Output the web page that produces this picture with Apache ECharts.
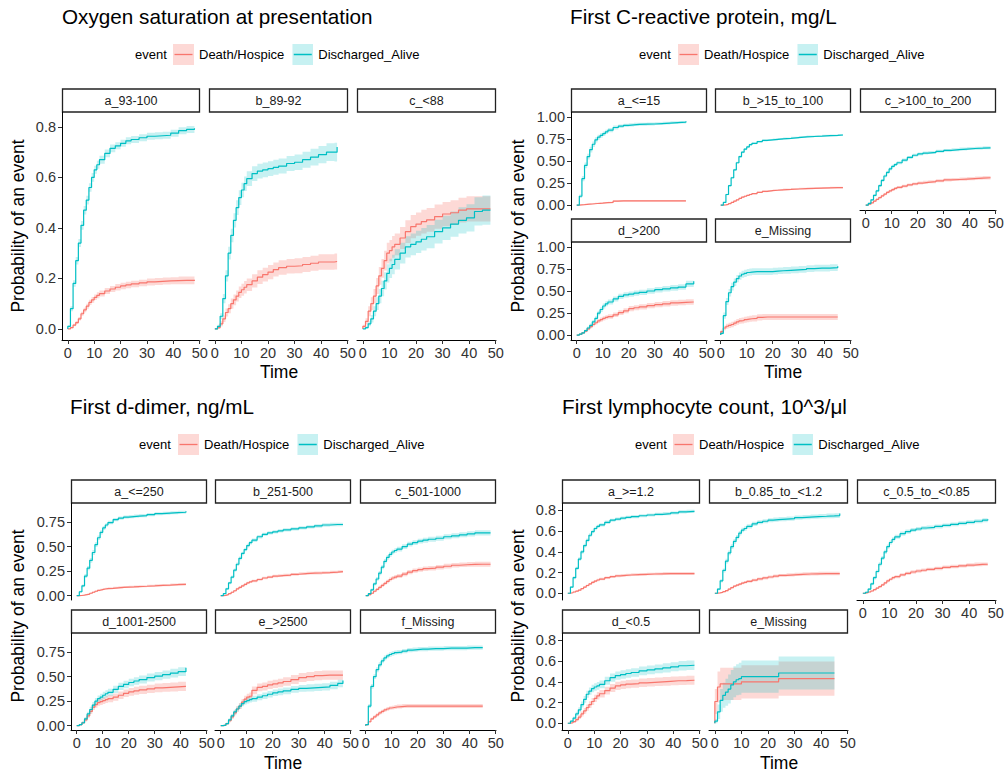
<!DOCTYPE html>
<html><head><meta charset="utf-8">
<script src="https://cdn.jsdelivr.net/npm/echarts@6/dist/echarts.min.js"></script>
<style>html,body{margin:0;padding:0;background:#fff}#c{width:1007px;height:774px}</style>
</head><body><div id="c"></div><script>
// ---------- DATA ----------
const T = [0,1,2,3,4,5,6,7,8,9,10,11,12,14,16,18,20,22,24,27,30,33,36,39,42,45,48];
const EVENTS = ['Death/Hospice','Discharged_Alive'];
const xTicks = [0,10,20,30,40,50];

// Panel 1: Oxygen saturation
const oxyTitle = 'Oxygen saturation at presentation';
const oxyFacets = ['a_93-100','b_89-92','c_<88'];
const oxyEnd = [48,46,48];
const oxyYTicks = [0,0.2,0.4,0.6,0.8];
const oxy_a_D = [0,0.005,0.015,0.025,0.04,0.06,0.075,0.09,0.105,0.115,0.125,0.133,0.14,0.15,0.158,0.165,0.17,0.174,0.178,0.182,0.186,0.188,0.19,0.191,0.192,0.192,0.195];
const oxy_a_Dhw = [0,0.003,0.005,0.006,0.007,0.008,0.009,0.01,0.01,0.011,0.011,0.012,0.012,0.012,0.012,0.013,0.013,0.013,0.013,0.013,0.014,0.014,0.014,0.014,0.015,0.015,0.016];
const oxy_a_A = [0.01,0.08,0.18,0.27,0.34,0.41,0.47,0.51,0.56,0.60,0.63,0.65,0.67,0.695,0.715,0.725,0.735,0.745,0.75,0.757,0.763,0.765,0.767,0.775,0.785,0.79,0.795];
const oxy_a_Ahw = [0.004,0.01,0.013,0.015,0.016,0.017,0.017,0.017,0.017,0.017,0.016,0.016,0.016,0.015,0.015,0.014,0.014,0.014,0.014,0.014,0.014,0.014,0.014,0.014,0.014,0.014,0.015];
const oxy_b_D = [0,0.005,0.02,0.04,0.065,0.08,0.10,0.115,0.13,0.145,0.155,0.165,0.175,0.19,0.205,0.215,0.225,0.235,0.243,0.248,0.25,0.255,0.26,0.265,0.265,0.267,0.267];
const oxy_b_Dhw = [0,0.005,0.01,0.013,0.016,0.018,0.02,0.021,0.022,0.023,0.024,0.025,0.025,0.026,0.027,0.027,0.028,0.028,0.029,0.029,0.03,0.03,0.03,0.031,0.031,0.032,0.032];
const oxy_b_A = [0,0.01,0.05,0.12,0.21,0.30,0.37,0.43,0.48,0.52,0.55,0.575,0.595,0.615,0.625,0.63,0.635,0.64,0.645,0.655,0.66,0.67,0.68,0.69,0.70,0.70,0.72];
const oxy_b_Ahw = [0,0.006,0.012,0.018,0.022,0.025,0.027,0.028,0.029,0.029,0.029,0.029,0.029,0.029,0.029,0.029,0.029,0.03,0.03,0.03,0.031,0.032,0.033,0.034,0.035,0.037,0.04];
const oxy_c_D = [0.01,0.03,0.07,0.10,0.13,0.17,0.21,0.24,0.27,0.30,0.31,0.325,0.335,0.36,0.385,0.405,0.415,0.425,0.432,0.445,0.455,0.46,0.47,0.475,0.475,0.475,0.475];
const oxy_c_Dhw = [0.006,0.012,0.02,0.025,0.028,0.032,0.035,0.037,0.039,0.041,0.042,0.043,0.043,0.044,0.045,0.046,0.046,0.047,0.047,0.048,0.048,0.049,0.049,0.05,0.05,0.05,0.05];
const oxy_c_A = [0,0.005,0.02,0.04,0.07,0.10,0.13,0.16,0.19,0.22,0.24,0.255,0.275,0.30,0.325,0.335,0.345,0.355,0.365,0.385,0.40,0.415,0.43,0.44,0.465,0.47,0.47];
const oxy_c_Ahw = [0,0.005,0.01,0.015,0.02,0.025,0.028,0.031,0.034,0.036,0.038,0.039,0.04,0.041,0.042,0.043,0.044,0.045,0.046,0.047,0.048,0.05,0.052,0.054,0.056,0.058,0.06];

// Panel 2: CRP
const crpTitle = 'First C-reactive protein, mg/L';
const crpFacets = ['a_<=15','b_>15_to_100','c_>100_to_200','d_>200','e_Missing'];
const crpEnd = [42,47,48,45,45];
const crpYTicks = [0,0.25,0.5,0.75,1];
const crp_a_D = [0,0.003,0.005,0.008,0.01,0.012,0.015,0.018,0.02,0.022,0.025,0.028,0.03,0.045,0.047,0.047,0.047,0.047,0.047,0.047,0.047,0.047,0.047,0.047,0.047];
const crp_a_Dhw = [0,0.003,0.004,0.005,0.005,0.006,0.006,0.007,0.007,0.007,0.008,0.008,0.008,0.01,0.01,0.01,0.01,0.01,0.01,0.01,0.01,0.01,0.01,0.01,0.01];
const crp_a_A = [0,0.10,0.30,0.45,0.55,0.63,0.69,0.74,0.77,0.79,0.81,0.83,0.85,0.88,0.895,0.905,0.91,0.915,0.918,0.92,0.925,0.93,0.935,0.94,0.95];
const crp_a_Ahw = [0,0.02,0.03,0.032,0.033,0.033,0.032,0.03,0.028,0.027,0.026,0.025,0.024,0.022,0.02,0.019,0.018,0.018,0.017,0.017,0.016,0.016,0.016,0.015,0.015];
const crp_b_D = [0,0.003,0.008,0.017,0.03,0.045,0.06,0.075,0.09,0.10,0.11,0.12,0.13,0.145,0.155,0.163,0.168,0.173,0.177,0.182,0.187,0.19,0.193,0.195,0.197,0.198,0.20];
const crp_b_Dhw = [0,0.002,0.003,0.004,0.005,0.006,0.006,0.007,0.007,0.008,0.008,0.008,0.008,0.009,0.009,0.009,0.009,0.01,0.01,0.01,0.01,0.01,0.01,0.01,0.01,0.01,0.011];
const crp_b_A = [0,0.03,0.12,0.22,0.31,0.40,0.48,0.55,0.60,0.635,0.66,0.685,0.70,0.72,0.733,0.74,0.745,0.75,0.757,0.765,0.773,0.778,0.782,0.787,0.79,0.795,0.80];
const crp_b_Ahw = [0,0.005,0.008,0.01,0.011,0.012,0.012,0.012,0.012,0.012,0.012,0.011,0.011,0.011,0.011,0.011,0.011,0.011,0.011,0.011,0.011,0.011,0.011,0.011,0.011,0.012,0.012];
const crp_c_D = [0,0.01,0.025,0.045,0.065,0.085,0.105,0.125,0.145,0.16,0.175,0.19,0.20,0.215,0.23,0.24,0.25,0.258,0.265,0.275,0.285,0.29,0.295,0.30,0.305,0.31,0.315];
const crp_c_Dhw = [0,0.004,0.007,0.009,0.01,0.011,0.012,0.013,0.014,0.014,0.015,0.015,0.015,0.016,0.016,0.016,0.017,0.017,0.017,0.017,0.018,0.018,0.018,0.018,0.019,0.019,0.02];
const crp_c_A = [0,0.02,0.06,0.11,0.16,0.22,0.28,0.33,0.37,0.41,0.44,0.46,0.48,0.51,0.54,0.565,0.58,0.59,0.597,0.61,0.62,0.628,0.635,0.642,0.645,0.65,0.655];
const crp_c_Ahw = [0,0.006,0.01,0.013,0.015,0.016,0.017,0.018,0.018,0.018,0.018,0.018,0.018,0.018,0.018,0.017,0.017,0.017,0.017,0.017,0.017,0.017,0.017,0.017,0.017,0.018,0.018];
const crp_d_D = [0,0.01,0.025,0.045,0.07,0.095,0.12,0.14,0.16,0.175,0.19,0.20,0.21,0.23,0.255,0.275,0.30,0.31,0.32,0.335,0.345,0.355,0.365,0.37,0.375,0.375];
const crp_d_Dhw = [0,0.006,0.01,0.013,0.016,0.018,0.02,0.021,0.022,0.023,0.024,0.024,0.025,0.026,0.027,0.028,0.029,0.029,0.03,0.03,0.03,0.031,0.031,0.031,0.032,0.032];
const crp_d_A = [0,0.01,0.025,0.05,0.08,0.11,0.15,0.19,0.25,0.29,0.33,0.355,0.375,0.41,0.44,0.455,0.465,0.475,0.485,0.50,0.515,0.525,0.535,0.545,0.58,0.61];
const crp_d_Ahw = [0,0.006,0.01,0.014,0.017,0.02,0.022,0.024,0.026,0.027,0.028,0.028,0.029,0.029,0.03,0.03,0.03,0.03,0.03,0.031,0.031,0.031,0.032,0.032,0.035,0.038];
const crp_e_D = [0.04,0.08,0.10,0.11,0.12,0.135,0.15,0.16,0.165,0.175,0.18,0.185,0.19,0.20,0.205,0.205,0.205,0.205,0.205,0.205,0.205,0.205,0.205,0.205,0.205,0.205];
const crp_e_Dhw = [0.02,0.025,0.028,0.029,0.03,0.031,0.032,0.033,0.033,0.034,0.034,0.034,0.035,0.035,0.035,0.035,0.035,0.035,0.035,0.035,0.035,0.035,0.035,0.035,0.035,0.035];
const crp_e_A = [0.02,0.22,0.38,0.48,0.55,0.60,0.64,0.67,0.69,0.70,0.71,0.715,0.72,0.72,0.72,0.72,0.725,0.73,0.735,0.74,0.745,0.755,0.76,0.76,0.765,0.78];
const crp_e_Ahw = [0.015,0.035,0.04,0.042,0.043,0.043,0.042,0.041,0.04,0.04,0.039,0.039,0.038,0.038,0.038,0.038,0.038,0.038,0.038,0.038,0.038,0.038,0.038,0.038,0.038,0.038];

// Panel 3: d-dimer
const ddTitle = 'First d-dimer, ng/mL';
const ddFacets = ['a_<=250','b_251-500','c_501-1000','d_1001-2500','e_>2500','f_Missing'];
const ddEnd = [42,47,48,42,47,45];
const ddYTicks = [0,0.25,0.5,0.75];
const dd_a_D = [0,0.002,0.005,0.01,0.015,0.025,0.035,0.045,0.055,0.062,0.068,0.072,0.075,0.08,0.085,0.088,0.09,0.093,0.096,0.10,0.105,0.108,0.112,0.116,0.12];
const dd_a_Dhw = [0,0.002,0.003,0.004,0.005,0.006,0.007,0.008,0.009,0.009,0.01,0.01,0.01,0.01,0.011,0.011,0.011,0.011,0.011,0.011,0.012,0.012,0.012,0.012,0.013];
const dd_a_A = [0,0.04,0.10,0.20,0.28,0.36,0.44,0.52,0.59,0.645,0.69,0.72,0.745,0.775,0.79,0.80,0.805,0.81,0.815,0.825,0.835,0.84,0.845,0.85,0.86];
const dd_a_Ahw = [0,0.01,0.015,0.02,0.022,0.024,0.025,0.025,0.024,0.022,0.02,0.019,0.018,0.017,0.016,0.016,0.016,0.016,0.016,0.016,0.016,0.016,0.016,0.016,0.017];
const dd_b_D = [0,0.003,0.01,0.02,0.035,0.05,0.07,0.085,0.10,0.115,0.13,0.14,0.15,0.165,0.18,0.19,0.20,0.205,0.21,0.218,0.225,0.23,0.232,0.235,0.24,0.245,0.25];
const dd_b_Dhw = [0,0.003,0.005,0.006,0.008,0.009,0.01,0.011,0.011,0.012,0.012,0.012,0.013,0.013,0.013,0.013,0.014,0.014,0.014,0.014,0.014,0.014,0.015,0.015,0.015,0.015,0.015];
const dd_b_A = [0,0.02,0.07,0.13,0.19,0.26,0.32,0.38,0.43,0.47,0.51,0.54,0.565,0.60,0.625,0.64,0.65,0.66,0.67,0.68,0.69,0.70,0.71,0.72,0.725,0.725,0.725];
const dd_b_Ahw = [0,0.006,0.01,0.013,0.015,0.017,0.018,0.018,0.018,0.018,0.018,0.018,0.018,0.017,0.017,0.017,0.017,0.017,0.017,0.017,0.017,0.017,0.017,0.017,0.017,0.017,0.017];
const dd_c_D = [0,0.01,0.025,0.045,0.065,0.085,0.105,0.125,0.145,0.165,0.18,0.19,0.20,0.22,0.24,0.255,0.265,0.275,0.28,0.29,0.30,0.31,0.315,0.318,0.32,0.32,0.32];
const dd_c_Dhw = [0,0.005,0.008,0.011,0.013,0.015,0.016,0.017,0.018,0.019,0.02,0.02,0.021,0.021,0.022,0.022,0.022,0.023,0.023,0.023,0.024,0.024,0.024,0.024,0.025,0.025,0.025];
const dd_c_A = [0,0.02,0.06,0.12,0.17,0.23,0.29,0.35,0.39,0.42,0.445,0.46,0.475,0.50,0.525,0.54,0.555,0.565,0.575,0.585,0.60,0.61,0.62,0.63,0.64,0.64,0.64];
const dd_c_Ahw = [0,0.007,0.012,0.016,0.019,0.021,0.022,0.023,0.024,0.024,0.024,0.024,0.024,0.024,0.024,0.024,0.024,0.025,0.025,0.025,0.025,0.025,0.026,0.026,0.027,0.027,0.028];
const dd_d_D = [0,0.01,0.03,0.06,0.10,0.145,0.19,0.215,0.235,0.245,0.255,0.265,0.275,0.29,0.31,0.33,0.345,0.355,0.365,0.375,0.385,0.39,0.395,0.40,0.405];
const dd_d_Dhw = [0,0.007,0.012,0.017,0.022,0.026,0.03,0.032,0.033,0.034,0.035,0.035,0.036,0.037,0.038,0.039,0.04,0.041,0.042,0.043,0.044,0.045,0.046,0.047,0.048];
const dd_d_A = [0,0.01,0.03,0.07,0.12,0.165,0.21,0.25,0.275,0.29,0.31,0.325,0.34,0.37,0.40,0.42,0.44,0.455,0.47,0.49,0.505,0.52,0.535,0.55,0.59];
const dd_d_Ahw = [0,0.007,0.012,0.018,0.023,0.027,0.03,0.032,0.033,0.034,0.035,0.035,0.036,0.036,0.037,0.038,0.038,0.039,0.04,0.041,0.042,0.043,0.044,0.045,0.05];
const dd_e_D = [0,0.005,0.02,0.05,0.09,0.13,0.17,0.20,0.24,0.27,0.29,0.30,0.36,0.39,0.40,0.415,0.425,0.435,0.45,0.47,0.49,0.50,0.51,0.515,0.515,0.515,0.515];
const dd_e_Dhw = [0,0.005,0.01,0.016,0.021,0.025,0.028,0.031,0.033,0.035,0.036,0.037,0.039,0.04,0.041,0.042,0.042,0.043,0.044,0.045,0.046,0.046,0.047,0.047,0.048,0.048,0.048];
const dd_e_A = [0,0.005,0.02,0.06,0.10,0.14,0.17,0.20,0.225,0.245,0.255,0.265,0.275,0.29,0.305,0.32,0.335,0.345,0.355,0.37,0.38,0.385,0.39,0.395,0.41,0.43,0.46];
const dd_e_Ahw = [0,0.004,0.009,0.015,0.02,0.023,0.025,0.027,0.028,0.029,0.03,0.03,0.031,0.031,0.032,0.033,0.033,0.034,0.034,0.035,0.035,0.036,0.036,0.037,0.038,0.039,0.04];
const dd_f_D = [0.01,0.04,0.07,0.09,0.11,0.13,0.145,0.16,0.17,0.18,0.185,0.19,0.195,0.20,0.20,0.20,0.20,0.20,0.20,0.20,0.20,0.20,0.20,0.20,0.20,0.20];
const dd_f_Dhw = [0.005,0.01,0.013,0.015,0.016,0.017,0.018,0.018,0.019,0.019,0.019,0.02,0.02,0.02,0.02,0.02,0.02,0.02,0.02,0.02,0.02,0.02,0.02,0.02,0.02,0.02];
const dd_f_A = [0.01,0.20,0.40,0.50,0.57,0.62,0.66,0.69,0.71,0.725,0.735,0.745,0.75,0.76,0.77,0.775,0.78,0.78,0.785,0.785,0.79,0.79,0.79,0.795,0.795,0.80];
const dd_f_Ahw = [0.005,0.02,0.024,0.025,0.025,0.025,0.024,0.024,0.023,0.023,0.022,0.022,0.022,0.022,0.021,0.021,0.021,0.021,0.021,0.021,0.021,0.021,0.021,0.021,0.021,0.021];

// Panel 4: lymphocyte count
const lymTitle = 'First lymphocyte count, 10^3/\u03bcl';
const lymFacets = ['a_>=1.2','b_0.85_to_<1.2','c_0.5_to_<0.85','d_<0.5','e_Missing'];
const lymEnd = [48,47,47,48,45];
const lymYTicks = [0,0.2,0.4,0.6,0.8];
const lym_a_D = [0,0.005,0.012,0.02,0.03,0.045,0.06,0.075,0.09,0.105,0.118,0.128,0.137,0.15,0.16,0.167,0.172,0.176,0.18,0.183,0.186,0.188,0.19,0.19,0.19,0.19,0.19];
const lym_a_Dhw = [0,0.003,0.004,0.005,0.006,0.007,0.008,0.009,0.01,0.01,0.011,0.011,0.012,0.012,0.012,0.013,0.013,0.013,0.013,0.013,0.013,0.013,0.014,0.014,0.014,0.014,0.014];
const lym_a_A = [0,0.06,0.15,0.24,0.33,0.40,0.46,0.51,0.56,0.595,0.625,0.645,0.66,0.685,0.705,0.715,0.725,0.733,0.74,0.748,0.755,0.762,0.768,0.775,0.785,0.79,0.795];
const lym_a_Ahw = [0,0.01,0.014,0.016,0.017,0.018,0.018,0.018,0.018,0.017,0.017,0.016,0.016,0.016,0.015,0.015,0.015,0.015,0.015,0.015,0.015,0.015,0.015,0.015,0.015,0.016,0.017];
const lym_b_D = [0,0.003,0.008,0.015,0.025,0.04,0.055,0.068,0.078,0.088,0.098,0.106,0.114,0.127,0.138,0.148,0.157,0.165,0.172,0.178,0.183,0.186,0.188,0.19,0.19,0.19,0.19];
const lym_b_Dhw = [0,0.003,0.004,0.005,0.007,0.008,0.009,0.01,0.011,0.011,0.012,0.012,0.013,0.013,0.014,0.014,0.015,0.015,0.015,0.016,0.016,0.016,0.016,0.017,0.017,0.017,0.017];
const lym_b_A = [0,0.04,0.12,0.22,0.31,0.39,0.45,0.50,0.54,0.58,0.61,0.625,0.645,0.67,0.685,0.695,0.705,0.71,0.715,0.72,0.73,0.735,0.74,0.743,0.747,0.75,0.77];
const lym_b_Ahw = [0,0.01,0.016,0.02,0.022,0.023,0.023,0.023,0.022,0.022,0.021,0.021,0.02,0.02,0.02,0.02,0.02,0.02,0.02,0.02,0.02,0.02,0.02,0.021,0.022,0.023,0.025];
const lym_c_D = [0,0.005,0.012,0.022,0.035,0.05,0.065,0.08,0.10,0.12,0.135,0.15,0.16,0.178,0.192,0.205,0.215,0.222,0.23,0.24,0.25,0.258,0.265,0.272,0.278,0.28,0.283];
const lym_c_Dhw = [0,0.003,0.005,0.006,0.008,0.009,0.01,0.011,0.012,0.013,0.013,0.014,0.014,0.015,0.015,0.016,0.016,0.016,0.016,0.017,0.017,0.017,0.017,0.018,0.018,0.018,0.018];
const lym_c_A = [0,0.01,0.04,0.09,0.15,0.21,0.28,0.34,0.40,0.45,0.49,0.52,0.545,0.575,0.595,0.61,0.62,0.63,0.635,0.645,0.655,0.665,0.675,0.685,0.695,0.705,0.715];
const lym_c_Ahw = [0,0.006,0.01,0.013,0.016,0.018,0.019,0.02,0.02,0.02,0.02,0.02,0.02,0.02,0.02,0.019,0.019,0.019,0.019,0.019,0.019,0.019,0.019,0.019,0.019,0.02,0.021];
const lym_d_D = [0,0.005,0.015,0.035,0.06,0.09,0.12,0.15,0.18,0.21,0.24,0.265,0.285,0.315,0.34,0.36,0.37,0.378,0.383,0.39,0.395,0.40,0.405,0.41,0.412,0.415,0.415];
const lym_d_Dhw = [0,0.006,0.01,0.015,0.02,0.024,0.027,0.03,0.032,0.034,0.035,0.036,0.037,0.038,0.039,0.04,0.04,0.04,0.04,0.041,0.041,0.041,0.042,0.042,0.042,0.043,0.043];
const lym_d_A = [0,0.02,0.05,0.09,0.13,0.18,0.23,0.28,0.31,0.335,0.35,0.36,0.375,0.41,0.44,0.46,0.47,0.48,0.49,0.505,0.515,0.525,0.535,0.545,0.555,0.56,0.56];
const lym_d_Ahw = [0,0.01,0.016,0.021,0.025,0.029,0.032,0.034,0.035,0.036,0.037,0.037,0.038,0.039,0.04,0.04,0.041,0.041,0.042,0.042,0.043,0.043,0.044,0.044,0.045,0.045,0.046];
const lym_e_D = [0.21,0.35,0.38,0.38,0.38,0.38,0.38,0.38,0.38,0.38,0.40,0.40,0.40,0.40,0.40,0.40,0.40,0.40,0.43,0.43,0.43,0.43,0.43,0.43,0.43,0.43];
const lym_e_Dhw = [0.12,0.15,0.155,0.155,0.155,0.155,0.155,0.155,0.155,0.155,0.16,0.16,0.16,0.16,0.16,0.16,0.16,0.16,0.165,0.165,0.165,0.165,0.165,0.165,0.165,0.165];
const lym_e_A = [0.02,0.11,0.22,0.27,0.30,0.33,0.37,0.40,0.42,0.43,0.45,0.45,0.45,0.45,0.45,0.45,0.45,0.45,0.485,0.485,0.485,0.485,0.485,0.485,0.485,0.485];
const lym_e_Ahw = [0.02,0.07,0.11,0.12,0.13,0.14,0.145,0.15,0.15,0.155,0.155,0.155,0.155,0.155,0.155,0.155,0.155,0.155,0.16,0.16,0.16,0.16,0.16,0.16,0.16,0.16];

// ---------- ASSEMBLY ----------
const PANELS = [
  {title: oxyTitle, facets: oxyFacets, ends: oxyEnd, yTicks: oxyYTicks, curves: [
    [oxy_a_D,oxy_a_Dhw,oxy_a_A,oxy_a_Ahw],[oxy_b_D,oxy_b_Dhw,oxy_b_A,oxy_b_Ahw],[oxy_c_D,oxy_c_Dhw,oxy_c_A,oxy_c_Ahw]]},
  {title: crpTitle, facets: crpFacets, ends: crpEnd, yTicks: crpYTicks, curves: [
    [crp_a_D,crp_a_Dhw,crp_a_A,crp_a_Ahw],[crp_b_D,crp_b_Dhw,crp_b_A,crp_b_Ahw],[crp_c_D,crp_c_Dhw,crp_c_A,crp_c_Ahw],
    [crp_d_D,crp_d_Dhw,crp_d_A,crp_d_Ahw],[crp_e_D,crp_e_Dhw,crp_e_A,crp_e_Ahw]]},
  {title: ddTitle, facets: ddFacets, ends: ddEnd, yTicks: ddYTicks, curves: [
    [dd_a_D,dd_a_Dhw,dd_a_A,dd_a_Ahw],[dd_b_D,dd_b_Dhw,dd_b_A,dd_b_Ahw],[dd_c_D,dd_c_Dhw,dd_c_A,dd_c_Ahw],
    [dd_d_D,dd_d_Dhw,dd_d_A,dd_d_Ahw],[dd_e_D,dd_e_Dhw,dd_e_A,dd_e_Ahw],[dd_f_D,dd_f_Dhw,dd_f_A,dd_f_Ahw]]},
  {title: lymTitle, facets: lymFacets, ends: lymEnd, yTicks: lymYTicks, curves: [
    [lym_a_D,lym_a_Dhw,lym_a_A,lym_a_Ahw],[lym_b_D,lym_b_Dhw,lym_b_A,lym_b_Ahw],[lym_c_D,lym_c_Dhw,lym_c_A,lym_c_Ahw],
    [lym_d_D,lym_d_Dhw,lym_d_A,lym_d_Ahw],[lym_e_D,lym_e_Dhw,lym_e_A,lym_e_Ahw]]}
];

// layout (pixels)
const LAYOUT = [
  {titleX:62, titleY:16, eventX:135, legX:173, legY:44, dec:1, yR:[-0.044,0.859],
   cells:[[62,112,138,228],[209,112,139,228],[357,112,139,228]], xOn:[1,1,1], yOn:[1,0,0],
   timeX:279, timeY:372, probX:18, probY:226},
  {titleX:570, titleY:16, eventX:639, legX:678, legY:44, dec:2, yR:[-0.056,1.056],
   cells:[[571,112,136,98],[715,112,136,98],[860,112,136,98],[571,242,136,98],[715,242,136,98]],
   xOn:[0,0,1,1,1], yOn:[1,0,0,1,0], timeX:783, timeY:372, probX:518, probY:226},
  {titleX:70, titleY:406, eventX:139, legX:178, legY:434, dec:2, yR:[-0.044,0.944],
   cells:[[71,503,136,97],[215,503,136,97],[360,503,136,97],[71,633,136,97],[215,633,136,97],[360,633,136,97]],
   xOn:[0,0,0,1,1,1], yOn:[1,0,0,1,0,0], timeX:283, timeY:763, probX:18, probY:616},
  {titleX:562, titleY:406, eventX:635, legX:673, legY:434, dec:1, yR:[-0.065,0.871],
   cells:[[562,503,138,97],[709,503,139,97],[857,503,139,97],[562,633,138,97],[709,633,139,97]],
   xOn:[0,0,1,1,1], yOn:[1,0,0,1,0], timeX:779, timeY:763, probX:518, probY:616}
];
const X_MIN = -2.2, X_MAX = 50.1;
const COLORS = ['#F8766D','#00BFC4'];
const FILLS = ['rgba(248,118,109,0.28)','rgba(0,191,196,0.22)'];
const FONT = '"Liberation Sans", Arial, Helvetica, sans-serif';

function keyIcon(k){
  const svg = '<svg xmlns="http://www.w3.org/2000/svg" width="21" height="21">' +
    '<rect x="0" y="0" width="21" height="21" fill="' + COLORS[k] + '" fill-opacity="' + (k ? 0.22 : 0.28) + '"/>' +
    '<line x1="1.5" y1="10.5" x2="19.5" y2="10.5" stroke="' + COLORS[k] + '" stroke-width="1.3"/></svg>';
  return 'image://data:image/svg+xml;charset=utf-8,' + encodeURIComponent(svg);
}

const grids = [], xAxes = [], yAxes = [], series = [], graphics = [], legends = [];
let gi = 0;
PANELS.forEach((P, pi) => {
  const L = LAYOUT[pi];
  graphics.push({type:'text', x:L.titleX, y:L.titleY, silent:true,
    style:{text:P.title, fontSize:20.7, fontFamily:FONT, fill:'#000', align:'left', verticalAlign:'middle', textAlign:'left', textVerticalAlign:'middle'}});
  graphics.push({type:'text', x:L.eventX, y:L.legY + 10.5, silent:true,
    style:{text:'event', fontSize:13, fontFamily:FONT, fill:'#000', align:'left', verticalAlign:'middle', textAlign:'left', textVerticalAlign:'middle'}});
  graphics.push({type:'text', x:L.timeX, y:L.timeY, silent:true,
    style:{text:'Time', fontSize:17.5, fontFamily:FONT, fill:'#000', align:'center', verticalAlign:'middle', textAlign:'center', textVerticalAlign:'middle'}});
  graphics.push({type:'text', x:L.probX, y:L.probY, rotation:Math.PI/2, silent:true,
    style:{text:'Probability of an event', fontSize:17.5, fontFamily:FONT, fill:'#000', align:'center', verticalAlign:'middle', textAlign:'center', textVerticalAlign:'middle'}});
  legends.push({left:L.legX, top:L.legY, orient:'horizontal', itemWidth:21, itemHeight:21, itemGap:8,
    selectedMode:false, padding:0, textStyle:{fontSize:13, color:'#000', fontFamily:FONT},
    data: EVENTS.map((e,k)=>({name:e, icon:keyIcon(k)}))});

  P.facets.forEach((fname, fi) => {
    const [l,t,w,h] = L.cells[fi];
    const xOn = !!L.xOn[fi], yOn = !!L.yOn[fi];
    grids.push({left:l, top:t, width:w, height:h, outerBoundsMode:'none', containLabel:false});
    xAxes.push({gridIndex:gi, type:'value', min:X_MIN, max:X_MAX,
      axisLine:{show:xOn, onZero:false, lineStyle:{color:'#000', width:1}},
      axisTick:{show:xOn, length:4, lineStyle:{color:'#333', width:1}, customValues:xTicks},
      axisLabel:{show:xOn, customValues:xTicks, margin:5, fontSize:14.5, color:'#333', fontFamily:FONT, hideOverlap:false},
      splitLine:{show:false}});
    yAxes.push({gridIndex:gi, type:'value', min:L.yR[0], max:L.yR[1],
      axisLine:{show:yOn, onZero:false, lineStyle:{color:'#000', width:1}},
      axisTick:{show:yOn, length:4, lineStyle:{color:'#333', width:1}, customValues:P.yTicks},
      axisLabel:{show:yOn, customValues:P.yTicks, margin:6, fontSize:14.5, color:'#333', fontFamily:FONT,
        formatter:(v)=>Number(v).toFixed(L.dec)},
      splitLine:{show:false}});
    // strip
    graphics.push({type:'rect', shape:{x:l+0.5, y:t-23, width:w-1, height:23}, silent:true,
      style:{fill:'#fff', stroke:'#222', lineWidth:1.3}});
    graphics.push({type:'text', x:l + w/2, y:t - 11.5, silent:true,
      style:{text:fname, fontSize:12.5, fontFamily:FONT, fill:'#1a1a1a', align:'center', verticalAlign:'middle', textAlign:'center', textVerticalAlign:'middle'}});

    const cv = P.curves[fi];
    const tEnd = P.ends[fi];
    [0,1].forEach(k => {
      const est = cv[k*2], hw = cv[k*2+1];
      const n = est.length;
      const times = T.slice(0, n-1).concat([tEnd]);
      const lo = est.map((v,i)=>Math.max(0, v - hw[i]));
      const hi = est.map((v,i)=>v + hw[i]);
      series.push({type:'custom', name:EVENTS[k], xAxisIndex:gi, yAxisIndex:gi, silent:true, z:1,
        animation:false, data:[[0,0]], clip:true,
        renderItem:(params, api) => {
          const pts = [];
          for (let i=0;i<n;i++){ pts.push(api.coord([times[i], hi[i]])); if (i<n-1) pts.push(api.coord([times[i+1], hi[i]])); }
          for (let i=n-1;i>=0;i--){ if (i<n-1) pts.push(api.coord([times[i+1], lo[i]])); pts.push(api.coord([times[i], lo[i]])); }
          return {type:'polygon', shape:{points:pts}, style:{fill:FILLS[k]}};
        }});
      series.push({type:'line', name:EVENTS[k], xAxisIndex:gi, yAxisIndex:gi, step:'end', symbol:'none', showSymbol:false,
        silent:true, z:3, animation:false, color:COLORS[k],
        lineStyle:{width:1.2, color:COLORS[k]}, itemStyle:{color:COLORS[k]},
        data:[[0,0]].concat(times.map((tt,i)=>[tt, est[i]]))});
    });
    gi++;
  });
});

const chart = echarts.init(document.getElementById('c'), null, {renderer:'svg', width:1007, height:774});
chart.setOption({
  backgroundColor:'#fff', animation:false,
  grid:grids, xAxis:xAxes, yAxis:yAxes, legend:legends, series:series,
  graphic:{elements:graphics}
});
</script></body></html>
